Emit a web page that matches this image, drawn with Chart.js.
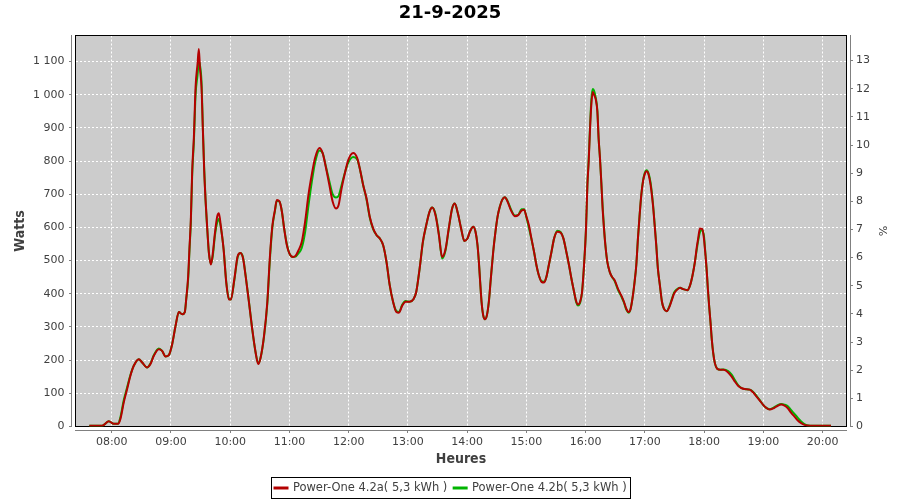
<!DOCTYPE html>
<html><head><meta charset="utf-8">
<script src="https://cdn.jsdelivr.net/npm/chart.js@4.4.1/dist/chart.umd.min.js"></script>
<style>html,body{margin:0;padding:0;background:#fff;}#wrap{width:900px;height:500px;}</style>
</head><body><div id="wrap"><canvas id="c" width="900" height="500"></canvas></div>
<script>
const chartTitle = '21-9-2025';
const seriesLabels = ['Power-One 4.2a( 5,3 kWh )', 'Power-One 4.2b( 5,3 kWh )'];
const xTickLabels = ['08:00','09:00','10:00','11:00','12:00','13:00','14:00','15:00','16:00','17:00','18:00','19:00','20:00'];
const wattTicks = [0,100,200,300,400,500,600,700,800,900,1000,1100];
const percentTicks = [0,1,2,3,4,5,6,7,8,9,10,11,12,13];
// minutes since midnight
const times = [457.3,470.2,475.3,477,482,486.4,488.8,492.2,495.6,498.9,
502.3,507.4,510.8,515.8,519.2,522.6,527.7,531,534.4,537.8,
541.2,544.6,548,551.3,554,555.4,557.4,558.8,560.1,561.5,
563.2,564.9,566.9,568.2,569.3,570.9,572.3,573.6,575,577,
578.4,580.4,582.4,584.5,586.8,588.5,590.5,593.3,596,598.7,
600.7,604.1,607.5,610.2,612.9,615.6,619,622.3,625.7,628.4,
630.8,634.2,637.5,640.2,642.6,645.3,647.2,649.9,652.3,654.6,
657.3,660,663.4,666.1,669.1,672.4,675.8,679.2,682.5,685.9,
690.3,693.6,697,700.3,703.7,707.1,709.7,712.8,716.1,719.5,
724.5,728.6,731.9,734.6,738,741.3,744.7,748.1,751.4,754.8,
758.2,761.5,764.9,768.2,770.9,774.3,777.6,781.7,785.7,788.4,
791.8,795.1,798.5,801.8,804.5,807.9,811.3,814.6,818,821.3,
824.7,827.4,830.4,833.8,837.1,840.3,842.7,846.1,848.4,850.4,
851.8,853.1,854.5,856.2,857.9,859.9,861.9,863.9,866.3,868.6,
870.7,873,875.4,878.1,880.8,884.2,888.2,891.6,894.9,897.6,
900,902.4,905,907.7,910.1,912.5,915.2,917.9,920.2,922.6,
925.3,928,931.3,934.7,937.4,940.4,943.1,945.5,948.2,950.5,
952.2,954.3,956.3,958.3,960.3,961.7,963,964.4,965.7,967.1,
968.4,970.1,971.8,973.1,974.5,975.8,977.2,978.5,979.9,981.9,
984.3,986.6,989.3,992.7,996,998.7,1001.1,1003.5,1005.5,1007.8,
1009.5,1011.2,1012.9,1014.6,1016.3,1018,1019.6,1021.7,1023.7,1025.7,
1028.1,1029.8,1031.4,1033.1,1035.1,1037.2,1039.2,1042,1044.7,1047.1,
1049.4,1052.1,1055.5,1058.8,1062.9,1065.5,1068.2,1070.6,1072.3,1073.9,
1075.6,1078,1079.7,1081,1082.4,1083.7,1085,1086.4,1087.7,1089.1,
1090.8,1093.1,1096.5,1099.8,1104.2,1107.6,1110.9,1114.3,1117.6,1121,
1126.1,1129.4,1132.8,1136.1,1139.5,1142.9,1146.2,1150.3,1153.6,1158,
1161.3,1164.7,1168.1,1171.4,1174.8,1178.2,1181.5,1184.9,1189.9,1200,
1208.4];
const wattsA = [2,2,13,16,8,8,23,73,113,153,
183,203,193,178,188,213,233,228,211,215,
248,303,345,338,345,383,453,543,623,773,
873,1023,1093,1138,1083,1023,893,773,683,583,
523,488,523,583,633,643,603,533,433,383,
383,443,513,523,508,453,373,293,223,188,
208,273,373,513,603,653,683,678,648,597,
547,521,511,514,531,556,617,698,758,809,
839,824,779,729,678,657,667,718,763,803,
824,809,768,728,688,632,597,577,567,547,
497,426,376,345,343,365,376,376,384,406,
476,557,607,647,660,637,577,511,534,597,
657,672,644,597,559,567,587,602,587,547,
496,436,376,335,323,335,376,446,526,587,
632,662,683,691,678,652,634,637,650,653,
632,607,567,526,486,456,436,434,451,486,
526,567,587,584,567,526,486,446,406,376,
368,376,406,486,597,728,798,899,970,1008,
1000,987,949,867,806,735,652,597,547,496,
466,451,441,415,395,376,355,345,355,395,
436,486,567,637,698,738,759,769,759,728,
667,607,547,476,426,376,355,347,360,380,
400,411,418,414,411,424,456,496,537,567,
597,595,567,526,476,415,363,313,262,222,
191,174,171,171,163,151,136,123,116,113,
111,103,91,79,66,56,51,55,61,66,
63,55,41,30,18,10,5,3,2,2,
2];
const wattsB = [2,2,13,16,8,8,28,80,118,155,
183,203,193,178,190,215,235,228,211,215,
248,303,345,338,345,383,445,535,615,760,
860,1000,1060,1100,1090,1040,900,780,683,583,
523,490,515,575,615,625,600,535,435,385,
383,440,510,523,510,455,375,293,223,190,
208,270,368,505,598,650,680,678,648,597,
550,521,511,512,522,538,585,665,735,795,
832,824,782,740,700,690,695,728,765,795,
812,805,768,728,685,630,595,577,567,547,
497,426,376,348,345,368,378,376,384,406,
476,555,607,647,660,640,580,506,530,595,
657,672,644,597,559,567,587,602,587,547,
496,436,376,335,323,335,376,446,526,587,
632,662,683,691,680,655,636,637,655,655,
630,600,565,526,486,456,438,436,451,486,
526,567,590,586,567,526,486,446,406,373,
365,372,406,486,597,728,805,905,985,1017,
1012,992,952,867,806,735,660,600,547,496,
466,451,438,412,392,374,352,343,355,395,
436,486,567,637,698,740,762,772,762,735,
672,610,550,476,426,376,355,347,362,383,
403,413,418,414,411,424,456,496,530,560,
585,592,575,530,476,415,363,313,262,222,
191,174,171,172,167,157,141,125,116,113,
111,105,93,80,66,56,52,57,63,68,
66,61,49,38,26,15,7,3,2,2,
2];
const seriesColors = ['#b40000', '#00b400'];

const toMin = s => { const [h, m] = s.split(':').map(Number); return h * 60 + m; };
const fmtW = v => v >= 1000 ? Math.floor(v / 1000) + ' ' + String(v % 1000).padStart(3, '0') : String(v);
const FONT = 'DejaVu Sans';
Chart.defaults.font.family = FONT;

const align = p => Math.round(p - 0.5) + 0.5;

const framePlugin = {
  id: 'frame',
  beforeDraw(chart) {
    const {ctx, chartArea: a} = chart;
    ctx.save();
    ctx.fillStyle = '#ffffff';
    ctx.fillRect(0, 0, chart.width, chart.height);
    ctx.fillStyle = '#cccccc';
    ctx.fillRect(a.left, a.top, a.right - a.left, a.bottom - a.top);
    ctx.restore();
  },
  beforeDatasetsDraw(chart) {
    const {ctx, chartArea: a, scales} = chart;
    ctx.save();
    ctx.lineWidth = 1;
    ctx.strokeStyle = '#000000';
    ctx.strokeRect(a.left, a.top, a.right - a.left, a.bottom - a.top);
    ctx.strokeStyle = '#808080';
    ctx.beginPath();
    const lx = a.left - 4, rx = a.right + 4, by = a.bottom + 4;
    ctx.moveTo(lx, a.top - 0.5); ctx.lineTo(lx, a.bottom + 0.5);
    ctx.moveTo(rx, a.top - 0.5); ctx.lineTo(rx, a.bottom + 0.5);
    ctx.moveTo(a.left - 0.5, by); ctx.lineTo(a.right + 0.5, by);
    scales.y.ticks.forEach(t => { const p = align(scales.y.getPixelForValue(t.value)); ctx.moveTo(lx - 2.5, p); ctx.lineTo(lx, p); });
    scales.y1.ticks.forEach(t => { const p = align(scales.y1.getPixelForValue(t.value)); ctx.moveTo(rx, p); ctx.lineTo(rx + 2.5, p); });
    scales.x.ticks.forEach(t => { const p = align(scales.x.getPixelForValue(t.value)); ctx.moveTo(p, by); ctx.lineTo(p, by + 2.5); });
    ctx.stroke();
    ctx.restore();
  },
  afterDraw(chart) {
    const {ctx} = chart;
    const ds = chart.data.datasets;
    ctx.save();
    ctx.font = '11.5px "' + FONT + '"';
    const sample = 15, gap = 4.4, itemGap = 5.3, padL = 2, padR = 3.6;
    const widths = ds.map(d => ctx.measureText(d.label).width);
    let total = padL + padR;
    widths.forEach((w, i) => { total += sample + gap + w + (i > 0 ? itemGap : 0); });
    const left = Math.round(450.3 - total / 2) + 0.5;
    const top = 477.5, h = 21, cy = 488;
    ctx.strokeStyle = '#000000';
    ctx.lineWidth = 1;
    ctx.strokeRect(left, top, Math.round(total), h);
    let x = left + padL;
    ds.forEach((d, i) => {
      if (i > 0) x += itemGap;
      ctx.strokeStyle = d.borderColor;
      ctx.lineWidth = 3;
      ctx.beginPath(); ctx.moveTo(x, cy); ctx.lineTo(x + sample, cy); ctx.stroke();
      x += sample + gap;
      ctx.fillStyle = '#404040';
      ctx.textBaseline = 'middle';
      ctx.textAlign = 'left';
      ctx.fillText(d.label, x, cy);
      x += widths[i];
    });
    ctx.restore();
  }
};

const mk = (vals) => times.map((t, i) => ({x: t, y: vals[i]}));

new Chart(document.getElementById('c'), {
  type: 'line',
  data: {
    datasets: [
      {label: seriesLabels[0], data: mk(wattsA), borderColor: seriesColors[0], backgroundColor: seriesColors[0], borderWidth: 2, pointRadius: 0, cubicInterpolationMode: 'monotone', yAxisID: 'y'},
      {label: seriesLabels[1], data: mk(wattsB), borderColor: seriesColors[1], backgroundColor: seriesColors[1], borderWidth: 2, pointRadius: 0, cubicInterpolationMode: 'monotone', yAxisID: 'y'}
    ]
  },
  options: {
    responsive: false,
    animation: false,
    devicePixelRatio: 1,
    layout: {padding: 0},
    plugins: {
      legend: {display: false},
      tooltip: {enabled: false},
      title: {display: true, text: chartTitle, color: '#000000', font: {family: FONT, size: 18, weight: 'bold'}, padding: {top: 3, bottom: 10.9}}
    },
    scales: {
      x: {
        type: 'linear', position: 'bottom', min: 443.3, max: 1224.1,
        afterBuildTicks: s => { s.ticks = xTickLabels.map(l => ({value: toMin(l)})); },
        afterFit: s => { s.height = 73.5; },
        ticks: {callback: v => xTickLabels.find(l => toMin(l) === v) || '', color: '#404040', font: {size: 11}, padding: 8.6, maxRotation: 0, autoSkip: false},
        grid: {color: '#ffffff', lineWidth: 1, drawTicks: false},
        border: {display: false, dash: [2, 2]},
        title: {display: true, text: 'Heures', color: '#404040', font: {family: "'DejaVu Sans Condensed', 'DejaVu Sans'", size: 14, weight: 'bold'}, padding: {top: 0, bottom: 31.8}}
      },
      y: {
        type: 'linear', position: 'left', min: 0, max: 1178.4,
        afterBuildTicks: s => { s.ticks = wattTicks.map(v => ({value: v})); },
        afterFit: s => { s.width = 75.5; },
        ticks: {callback: v => fmtW(v), color: '#404040', font: {size: 11}, padding: 11},
        grid: {color: '#ffffff', lineWidth: 1, drawTicks: false},
        border: {display: false, dash: [2, 2]},
        title: {display: true, text: 'Watts', color: '#404040', font: {family: "'DejaVu Sans Condensed', 'DejaVu Sans'", size: 14, weight: 'bold'}, padding: {top: 12.1, bottom: 0}}
      },
      y1: {
        type: 'linear', position: 'right', display: true, min: 0, max: 13.89,
        afterBuildTicks: s => { s.ticks = percentTicks.map(v => ({value: v})); },
        afterFit: s => { s.width = 53.5; },
        ticks: {callback: v => String(v), color: '#404040', font: {size: 11}, padding: 9.5},
        grid: {drawOnChartArea: false, drawTicks: false},
        border: {display: false},
        title: {display: true, text: '%', color: '#404040', font: {size: 11}, padding: {top: 11.7, bottom: 0}}
      }
    }
  },
  plugins: [framePlugin]
});
</script>
</body></html>
